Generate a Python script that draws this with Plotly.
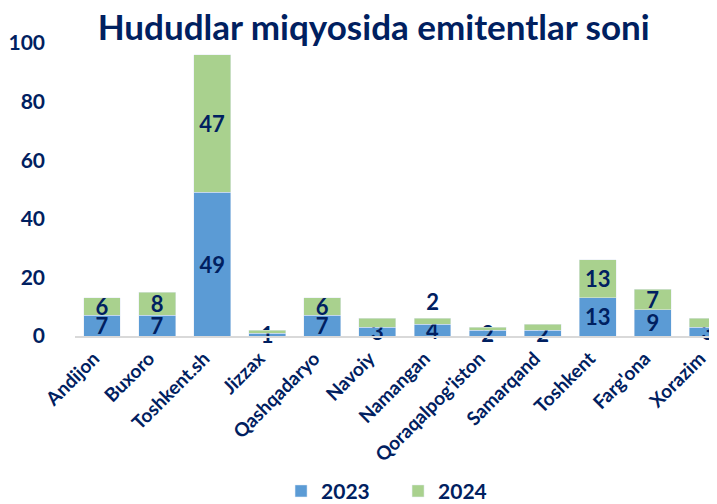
import plotly.graph_objects as go

regions = ["Andijon", "Buxoro", "Toshkent.sh", "Jizzax", "Qashqadaryo", "Navoiy",
           "Namangan", "Qoraqalpog'iston", "Samarqand", "Toshkent", "Farg'ona", "Xorazim"]
y2023 = [7, 7, 49, 1, 7, 3, 4, 2, 2, 13, 9, 3]
y2024 = [6, 8, 47, 1, 6, 3, 2, 1, 2, 13, 7, 3]
show2024 = [True, True, True, False, True, False, True, False, False, True, True, False]
y_ticks = [0, 20, 40, 60, 80, 100]

navy = "#002060"
font_family = "Lato, 'Open Sans', sans-serif"

# label of a tiny top segment is drawn just above it
pos2024 = ["outside" if v < 3 else "inside" for v in y2024]

fig = go.Figure()
fig.add_trace(go.Bar(
    x=regions, y=y2023, name="2023", marker_color="#5B9BD5",
    text=[str(v) for v in y2023], textposition="inside", insidetextanchor="middle",
    textangle=0,
    textfont=dict(family=font_family, size=22, color=navy, weight="bold"),
    cliponaxis=False,
))
fig.add_trace(go.Bar(
    x=regions, y=y2024, name="2024", marker_color="#A9D18E",
    text=[str(v) if s else "" for v, s in zip(y2024, show2024)],
    textposition=pos2024, insidetextanchor="middle", textangle=0,
    textfont=dict(family=font_family, size=22, color=navy, weight="bold"),
    cliponaxis=False,
))

fig.update_layout(
    barmode="stack", bargap=0.33,
    width=717, height=504,
    margin=dict(l=67, r=0, t=35, b=174),
    plot_bgcolor="white", paper_bgcolor="white",
    font=dict(family=font_family, color=navy),
    uniformtext=dict(minsize=22, mode="show"),
    title=dict(text="<b>Hududlar miqyosida emitentlar soni</b>",
               font=dict(family=font_family, size=35, color=navy),
               x=0.51, xanchor="center", y=0.985, yanchor="top"),
    legend=dict(orientation="h", x=0.497, xanchor="center", y=-0.6, yanchor="bottom",
                traceorder="normal",
                font=dict(family=font_family, size=21, color=navy, weight="bold"),
                entrywidth=72, itemwidth=30),
    showlegend=True,
)
fig.update_xaxes(
    range=[-0.49, 11.31], tickangle=-45, showgrid=False,
    showline=True, linecolor="#D9D9D9", linewidth=2,
    tickfont=dict(family=font_family, size=19, color=navy, weight="bold"),
    ticklabelshift=-8, ticklabelstandoff=2,
)
fig.update_yaxes(
    range=[0, 100], tickvals=y_ticks, showgrid=False, zeroline=False,
    tickfont=dict(family=font_family, size=21, color=navy, weight="bold"),
    ticklabelstandoff=29,
)
fig.write_html("out.html")
